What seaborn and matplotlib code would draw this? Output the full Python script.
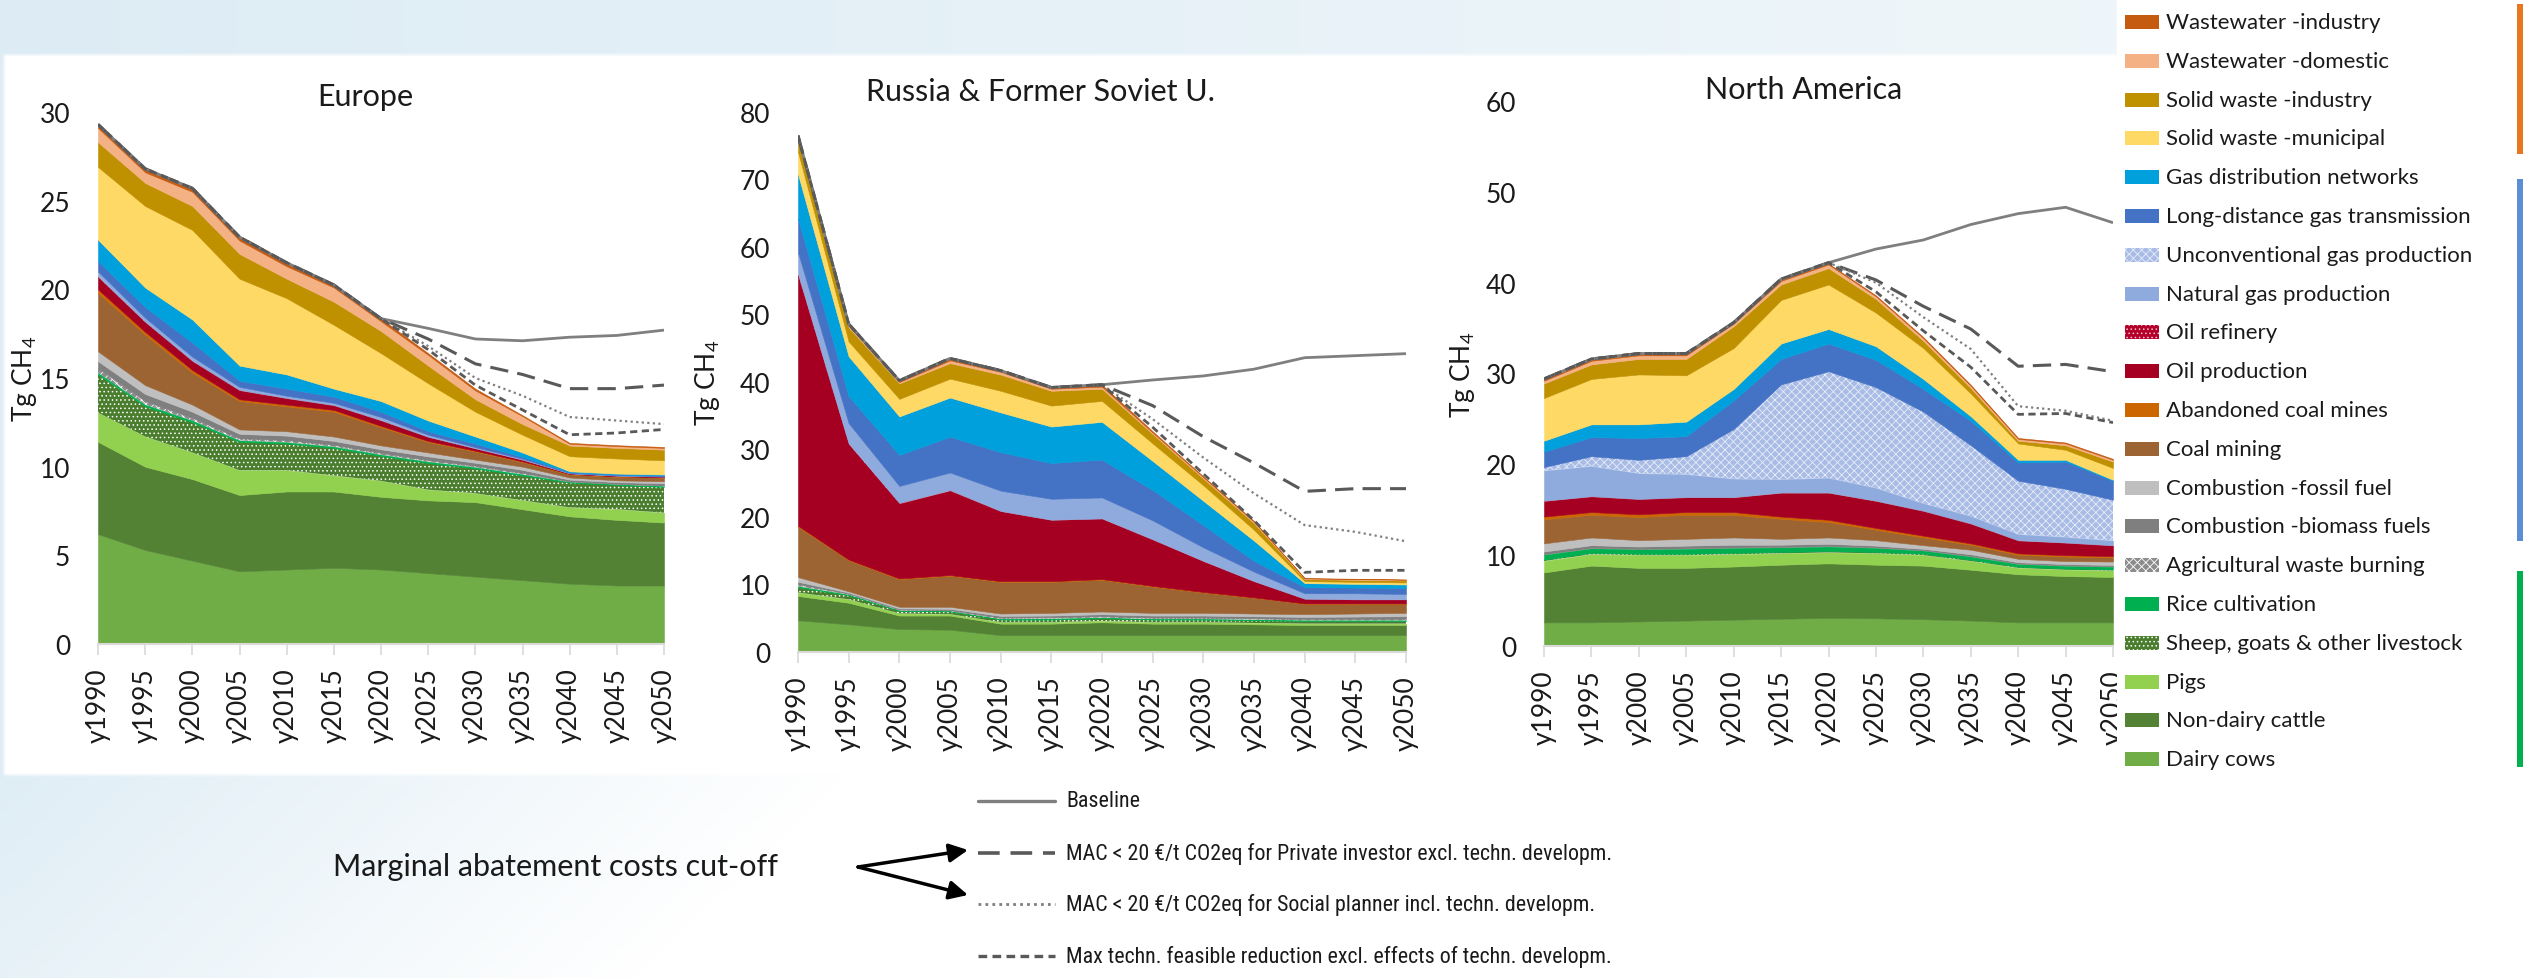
import numpy as np
import matplotlib
matplotlib.use("Agg")
import matplotlib.pyplot as plt
import seaborn as sns
from matplotlib.patches import Rectangle
from matplotlib import font_manager

W, H = 2526, 979

years = [1990, 1995, 2000, 2005, 2010, 2015, 2020, 2025, 2030, 2035, 2040, 2045, 2050]
year_labels = ["y" + str(y) for y in years]

# stack order, bottom to top
categories = [
    "Dairy cows", "Non-dairy cattle", "Pigs", "Sheep, goats & other livestock",
    "Rice cultivation", "Agricultural waste burning", "Combustion -biomass fuels",
    "Combustion -fossil fuel", "Coal mining", "Abandoned coal mines", "Oil production",
    "Oil refinery", "Natural gas production", "Unconventional gas production",
    "Long-distance gas transmission", "Gas distribution networks",
    "Solid waste -municipal", "Solid waste -industry", "Wastewater -domestic",
    "Wastewater -industry",
]
colors = [
    "#70ad47", "#548235", "#92d050", "#4a7d2e",
    "#00b050", "#8c8c8c", "#7f7f7f",
    "#bfbfbf", "#9c6433", "#cc6600", "#a50021",
    "#b4002a", "#8faadc", "#a9bce6",
    "#4472c4", "#00a0dc",
    "#ffd966", "#bf9000", "#f4b183",
    "#c55a11",
]
hatches = [None, None, None, "....", None, "xxxx", None, None, None, None, None,
           "....", None, "xxxx", None, None, None, None, None, None]
hatch_colors = [None, None, None, "white", None, "white", None, None, None, None, None,
                "#f2c6cc", None, "#e6ecf8", None, None, None, None, None, None]

# Tg CH4 per source (same order as categories)
eu_layers = [
    [6.2, 5.3, 4.7, 4.1, 4.2, 4.3, 4.2, 4.0, 3.8, 3.6, 3.4, 3.3, 3.3],
    [5.2, 4.7, 4.6, 4.3, 4.4, 4.3, 4.1, 4.1, 4.2, 4.0, 3.8, 3.7, 3.55],
    [1.65, 1.7, 1.5, 1.4, 1.2, 0.9, 0.9, 0.6, 0.5, 0.5, 0.5, 0.6, 0.55],
    [2.15, 1.7, 1.7, 1.6, 1.5, 1.55, 1.4, 1.5, 1.4, 1.4, 1.4, 1.36, 1.46],
    [0.1, 0.1, 0.1, 0.08, 0.08, 0.08, 0.08, 0.08, 0.07, 0.07, 0.04, 0.04, 0.04],
    [0.25, 0.2, 0.15, 0.12, 0.12, 0.1, 0.1, 0.1, 0.08, 0.08, 0.03, 0.03, 0.04],
    [0.4, 0.4, 0.35, 0.25, 0.25, 0.22, 0.2, 0.2, 0.17, 0.17, 0.1, 0.1, 0.12],
    [0.55, 0.5, 0.4, 0.25, 0.25, 0.25, 0.22, 0.22, 0.18, 0.18, 0.12, 0.1, 0.12],
    [3.3, 2.85, 1.8, 1.6, 1.4, 1.4, 1.02, 0.59, 0.45, 0.26, 0.17, 0.2, 0.2],
    [0.2, 0.15, 0.15, 0.1, 0.1, 0.1, 0.08, 0.06, 0.05, 0.04, 0.03, 0.03, 0.03],
    [0.7, 0.55, 0.5, 0.5, 0.35, 0.25, 0.3, 0.22, 0.12, 0.08, 0.02, 0.02, 0.02],
    [0.03, 0.03, 0.03, 0.03, 0.03, 0.03, 0.03, 0.02, 0.02, 0.02, 0.01, 0.01, 0.01],
    [0.27, 0.22, 0.22, 0.17, 0.12, 0.12, 0.17, 0.11, 0.06, 0.05, 0.02, 0.02, 0.02],
    [0, 0, 0, 0, 0, 0, 0, 0, 0, 0, 0, 0, 0],
    [0.6, 0.6, 0.8, 0.35, 0.4, 0.35, 0.3, 0.2, 0.2, 0.1, 0.05, 0.05, 0.05],
    [1.2, 1.1, 1.3, 0.85, 0.8, 0.45, 0.6, 0.6, 0.4, 0.25, 0.05, 0.05, 0.05],
    [4.1, 4.6, 5.05, 4.9, 4.3, 3.6, 2.7, 2.1, 1.4, 1.0, 0.85, 0.85, 0.8],
    [1.4, 1.3, 1.35, 1.4, 1.1, 1.3, 1.25, 1.0, 0.7, 0.6, 0.6, 0.6, 0.6],
    [0.8, 0.6, 0.8, 0.75, 0.7, 0.8, 0.55, 0.6, 0.5, 0.45, 0.1, 0.1, 0.1],
    [0.15, 0.15, 0.15, 0.2, 0.2, 0.15, 0.15, 0.1, 0.1, 0.05, 0.05, 0.05, 0.05],
]
ru_layers = [
    [4.7, 4.1, 3.4, 3.3, 2.5, 2.5, 2.5, 2.5, 2.5, 2.5, 2.5, 2.5, 2.5],
    [3.6, 3.2, 2.0, 2.1, 1.7, 1.7, 1.9, 1.7, 1.7, 1.6, 1.5, 1.5, 1.5],
    [0.5, 0.5, 0.3, 0.2, 0.2, 0.2, 0.2, 0.2, 0.2, 0.2, 0.2, 0.2, 0.2],
    [0.8, 0.6, 0.4, 0.4, 0.4, 0.4, 0.4, 0.4, 0.4, 0.4, 0.4, 0.4, 0.4],
    [0.15, 0.1, 0.05, 0.05, 0.1, 0.15, 0.1, 0.1, 0.1, 0.1, 0.1, 0.1, 0.1],
    [0.3, 0.15, 0.15, 0.15, 0.2, 0.2, 0.2, 0.2, 0.2, 0.2, 0.2, 0.2, 0.2],
    [0.35, 0.15, 0.15, 0.2, 0.25, 0.25, 0.3, 0.3, 0.3, 0.3, 0.3, 0.35, 0.4],
    [0.7, 0.2, 0.25, 0.3, 0.35, 0.4, 0.4, 0.4, 0.4, 0.4, 0.4, 0.45, 0.5],
    [7.45, 4.6, 4.1, 4.6, 4.7, 4.6, 4.7, 3.9, 3.02, 2.34, 1.55, 1.45, 1.35],
    [0.15, 0.1, 0.1, 0.1, 0.1, 0.1, 0.1, 0.1, 0.08, 0.06, 0.05, 0.05, 0.05],
    [37.2, 17.1, 11.1, 12.5, 10.35, 9.05, 8.95, 6.85, 4.55, 2.37, 0.68, 0.58, 0.58],
    [0.1, 0.1, 0.1, 0.1, 0.05, 0.05, 0.05, 0.05, 0.05, 0.03, 0.02, 0.02, 0.02],
    [3.2, 3.0, 2.5, 2.6, 3.0, 3.1, 3.1, 2.8, 2.0, 1.4, 0.8, 0.9, 0.8],
    [0, 0, 0, 0, 0, 0, 0, 0, 0, 0, 0, 0, 0],
    [5.0, 4.0, 4.6, 5.3, 5.7, 5.3, 5.6, 4.5, 3.3, 1.6, 0.9, 0.85, 0.9],
    [6.6, 5.9, 5.7, 5.8, 5.9, 5.4, 5.6, 4.3, 3.6, 3.0, 0.6, 0.55, 0.5],
    [3.3, 2.2, 2.6, 2.8, 3.2, 3.1, 3.1, 2.6, 2.3, 1.6, 0.3, 0.3, 0.3],
    [1.9, 2.1, 2.3, 2.3, 2.4, 2.2, 1.8, 1.4, 1.0, 1.0, 0.3, 0.3, 0.3],
    [0.3, 0.3, 0.2, 0.4, 0.4, 0.3, 0.3, 0.2, 0.2, 0.2, 0.1, 0.1, 0.1],
    [0.2, 0.2, 0.2, 0.3, 0.2, 0.2, 0.3, 0.2, 0.1, 0.1, 0.05, 0.05, 0.05],
]
na_layers = [
    [2.6, 2.6, 2.7, 2.8, 2.9, 3.0, 3.1, 3.05, 2.95, 2.8, 2.6, 2.6, 2.6],
    [5.5, 6.25, 5.9, 5.8, 5.85, 5.95, 6.0, 5.9, 5.9, 5.6, 5.3, 5.1, 5.0],
    [1.25, 1.25, 1.4, 1.4, 1.35, 1.25, 1.2, 1.25, 1.15, 0.95, 0.7, 0.7, 0.7],
    [0.15, 0.15, 0.15, 0.15, 0.15, 0.15, 0.15, 0.15, 0.15, 0.15, 0.12, 0.12, 0.12],
    [0.55, 0.5, 0.5, 0.55, 0.55, 0.5, 0.5, 0.45, 0.35, 0.35, 0.3, 0.3, 0.3],
    [0.05, 0.05, 0.05, 0.05, 0.05, 0.05, 0.05, 0.05, 0.05, 0.05, 0.05, 0.05, 0.05],
    [0.3, 0.3, 0.25, 0.3, 0.3, 0.25, 0.25, 0.2, 0.15, 0.2, 0.15, 0.15, 0.15],
    [0.9, 0.85, 0.7, 0.75, 0.8, 0.65, 0.7, 0.6, 0.4, 0.5, 0.38, 0.33, 0.38],
    [2.65, 2.5, 2.55, 2.65, 2.5, 2.2, 1.7, 1.15, 0.85, 0.55, 0.45, 0.5, 0.45],
    [0.3, 0.3, 0.3, 0.3, 0.3, 0.25, 0.25, 0.2, 0.2, 0.15, 0.15, 0.15, 0.15],
    [1.7, 1.7, 1.65, 1.6, 1.6, 2.6, 2.95, 2.95, 2.7, 2.15, 1.4, 1.35, 1.15],
    [0.05, 0.05, 0.05, 0.05, 0.05, 0.05, 0.05, 0.05, 0.05, 0.05, 0.05, 0.05, 0.05],
    [3.3, 3.3, 2.8, 2.5, 2.0, 1.45, 1.6, 1.4, 0.8, 0.8, 0.65, 0.6, 0.5],
    [0.4, 1.1, 1.5, 2.0, 5.5, 10.45, 11.75, 11.1, 10.1, 7.8, 5.9, 5.3, 4.5],
    [1.7, 2.1, 2.4, 2.2, 3.15, 2.8, 3.05, 3.0, 2.5, 2.7, 2.0, 3.0, 2.1],
    [1.2, 1.4, 1.5, 1.6, 1.25, 1.7, 1.6, 1.5, 1.1, 0.5, 0.3, 0.2, 0.1],
    [4.7, 5.0, 5.5, 5.1, 4.5, 4.8, 4.9, 3.7, 3.4, 2.5, 1.8, 1.1, 1.3],
    [1.6, 1.6, 1.7, 1.8, 2.4, 1.7, 1.8, 1.5, 0.8, 0.6, 0.3, 0.5, 0.7],
    [0.3, 0.4, 0.4, 0.4, 0.3, 0.4, 0.4, 0.3, 0.3, 0.25, 0.2, 0.2, 0.2],
    [0.1, 0.1, 0.1, 0.1, 0.1, 0.1, 0.1, 0.1, 0.1, 0.1, 0.1, 0.1, 0.1],
]

# scenario lines
eu_baseline = [29.3, 26.8, 25.7, 22.95, 21.5, 20.25, 18.35, 17.8, 17.2, 17.1, 17.3, 17.4, 17.7]
eu_private = [29.3, 26.8, 25.7, 22.95, 21.5, 20.25, 18.35, 17.2, 15.8, 15.2, 14.4, 14.4, 14.6]
eu_social = [29.3, 26.8, 25.7, 22.95, 21.5, 20.25, 18.35, 16.8, 15.0, 14.0, 12.8, 12.6, 12.4]
eu_maxtech = [29.3, 26.8, 25.7, 22.95, 21.5, 20.25, 18.35, 16.6, 14.6, 13.2, 11.8, 11.9, 12.1]

ru_baseline = [76.5, 48.6, 40.2, 43.5, 41.7, 39.2, 39.6, 40.3, 40.9, 41.9, 43.6, 43.9, 44.2]
ru_private = [76.5, 48.6, 40.2, 43.5, 41.7, 39.2, 39.6, 36.5, 31.9, 28.0, 23.8, 24.2, 24.2]
ru_social = [76.5, 48.6, 40.2, 43.5, 41.7, 39.2, 39.6, 34.5, 28.8, 23.5, 18.8, 17.8, 16.4]
ru_maxtech = [76.5, 48.6, 40.2, 43.5, 41.7, 39.2, 39.6, 33.3, 26.4, 19.5, 11.8, 12.1, 12.1]

na_baseline = [29.4, 31.6, 32.2, 32.2, 35.6, 40.4, 42.2, 43.7, 44.7, 46.4, 47.6, 48.3, 46.6]
na_private = [29.4, 31.6, 32.2, 32.2, 35.6, 40.4, 42.2, 40.3, 37.4, 34.9, 30.8, 31.0, 30.2]
na_social = [29.4, 31.6, 32.2, 32.2, 35.6, 40.4, 42.2, 40.0, 36.2, 32.7, 26.4, 25.9, 24.8]
na_maxtech = [29.4, 31.6, 32.2, 32.2, 35.6, 40.4, 42.2, 39.0, 34.7, 30.7, 25.5, 25.6, 24.6]

line_labels = [
    "Baseline",
    "MAC < 20 €/t CO2eq for Private investor excl. techn. developm.",
    "MAC < 20 €/t CO2eq for Social planner incl. techn. developm.",
    "Max techn. feasible reduction excl. effects of techn. developm.",
]
line_styles = [
    dict(color="#7f7f7f", lw=2.0, ls="-"),
    dict(color="#595959", lw=2.2, ls=(0, (6, 3))),
    dict(color="#7f7f7f", lw=1.6, ls=(0, (1, 1.5))),
    dict(color="#595959", lw=2.0, ls=(0, (2.6, 1.6))),
]

sns.set_theme(style="white")
plt.rcParams["font.family"] = ["Lato", "DejaVu Sans"]
plt.rcParams["mathtext.fontset"] = "custom"
plt.rcParams["mathtext.rm"] = "Lato"
plt.rcParams["hatch.linewidth"] = 0.6

# narrow face for the scenario key if one is installed
installed = {f.name for f in font_manager.fontManager.ttflist}
key_font, key_size = ["Lato", "DejaVu Sans"], 14.3
for narrow, size in (("Liberation Sans Narrow", 16.3), ("Roboto Condensed", 15.8)):
    if narrow in installed:
        key_font, key_size = [narrow, "DejaVu Sans"], size
        break

fig = plt.figure(figsize=(W / 100, H / 100), dpi=100, facecolor="white")

# background tint
bg = fig.add_axes([0, 0, 1, 1], zorder=-10)
bg.set_xlim(0, W)
bg.set_ylim(H, 0)
bg.axis("off")
gh, gw = 246, 632
yy, xx = np.mgrid[0:gh, 0:gw]
X = (xx + 0.5) * W / gw
Y = (yy + 0.5) * H / gh
alpha = np.zeros((gh, gw))
alpha = np.where((Y < 56) & (X < 2117), np.clip(0.95 - 0.5 * X / 2117, 0, 1), alpha)
alpha = np.where((Y >= 56) & (Y < 778) & (X < 5), 0.9, alpha)
alpha = np.where((Y >= 778) & (X < 960), 0.9 * np.clip(1 - X / 850 - 0.25 * (Y - 778) / 200, 0, 1), alpha)
img = np.zeros((gh, gw, 4))
img[..., 0], img[..., 1], img[..., 2] = 0.86, 0.925, 0.96
img[..., 3] = alpha
bg.imshow(img, extent=(0, W, H, 0), interpolation="bilinear", aspect="auto")


def draw_panel(rect, layers, lines, ymax, ystep, title, title_xy, ylab_x):
    ax = fig.add_axes(rect)
    ax.set_facecolor("none")
    polys = ax.stackplot(years, *layers, colors=colors)
    for poly, c, ht, hc in zip(polys, colors, hatches, hatch_colors):
        if ht:
            poly.set_hatch(ht)
            poly.set_edgecolor(hc)
            poly.set_linewidth(0)
        else:
            poly.set_edgecolor(c)
            poly.set_linewidth(0.4)
    for vals, st in zip(lines, line_styles):
        ax.plot(years, vals, color=st["color"], lw=st["lw"], ls=st["ls"],
                solid_capstyle="butt")
    ax.set_xlim(years[0], years[-1])
    ax.set_ylim(0, ymax)
    ax.set_xticks(years)
    ax.set_xticklabels(year_labels, rotation=90)
    ax.set_yticks(range(0, ymax + 1, ystep))
    for s in ["top", "right", "left"]:
        ax.spines[s].set_visible(False)
    ax.spines["bottom"].set_color("#d9d9d9")
    ax.spines["bottom"].set_linewidth(1.5)
    ax.tick_params(axis="x", direction="out", length=8, width=1.2, color="#d9d9d9",
                   labelsize=19, labelcolor="#1a1a1a", pad=9, bottom=True)
    ax.tick_params(axis="y", length=0, labelsize=19, labelcolor="#1a1a1a", pad=20)
    ax.set_ylabel("Tg CH$_4$", fontsize=19, color="#1a1a1a")
    ax.yaxis.set_label_coords(ylab_x, 0.5)
    fig.text(title_xy[0] / W, 1 - title_xy[1] / H, title, fontsize=22,
             ha="center", va="center", color="#1a1a1a")
    return ax


draw_panel([98 / W, 1 - 645 / H, 566 / W, 532 / H], eu_layers,
           [eu_baseline, eu_private, eu_social, eu_maxtech], 30, 5,
           "Europe", (365, 97), -0.105)
draw_panel([798 / W, 1 - 653 / H, 608 / W, 540 / H], ru_layers,
           [ru_baseline, ru_private, ru_social, ru_maxtech], 80, 10,
           "Russia & Former Soviet U.", (1041, 92), -0.125)
draw_panel([1544 / W, 1 - 647 / H, 569 / W, 545 / H], na_layers,
           [na_baseline, na_private, na_social, na_maxtech], 60, 10,
           "North America", (1804, 90), -0.118)

# legends drawn in figure pixel space
ov = fig.add_axes([0, 0, 1, 1], zorder=10)
ov.set_xlim(0, W)
ov.set_ylim(H, 0)
ov.axis("off")
ov.add_patch(Rectangle((2117, 0), W - 2117, 780, facecolor="white", edgecolor="none"))

for i, idx in enumerate(range(len(categories) - 1, -1, -1)):
    y = 23 + i * 38.8
    ov.add_patch(Rectangle((2125, y - 7), 34, 14, facecolor=colors[idx],
                           hatch=hatches[idx],
                           edgecolor=hatch_colors[idx] if hatches[idx] else "none",
                           linewidth=0))
    ov.text(2166, y, categories[idx], fontsize=16, va="center", ha="left", color="#1a1a1a")

ov.add_patch(Rectangle((2517, 5), 6, 150, facecolor="#e87722", edgecolor="none"))
ov.add_patch(Rectangle((2517, 180), 6, 362, facecolor="#5b8ed6", edgecolor="none"))
ov.add_patch(Rectangle((2517, 572), 6, 196, facecolor="#00b050", edgecolor="none"))

for i, (lab, st) in enumerate(zip(line_labels, line_styles)):
    y = 802 + i * 51.7
    ov.plot([978, 1055], [y, y], color=st["color"], lw=st["lw"] + 0.4, ls=st["ls"])
    ov.text(1066, y, lab, fontsize=key_size, family=key_font, va="center",
            ha="left", color="#1a1a1a")

ov.text(333, 867, "Marginal abatement costs cut-off", fontsize=22, va="center",
        ha="left", color="#1a1a1a")
for ty in (851, 896):
    ov.annotate("", xy=(968, ty), xytext=(858, 868),
                arrowprops=dict(arrowstyle="-|>", color="black", lw=2.5,
                                mutation_scale=28, shrinkA=0, shrinkB=0))

fig.savefig("out.png", dpi=100, facecolor="white")
